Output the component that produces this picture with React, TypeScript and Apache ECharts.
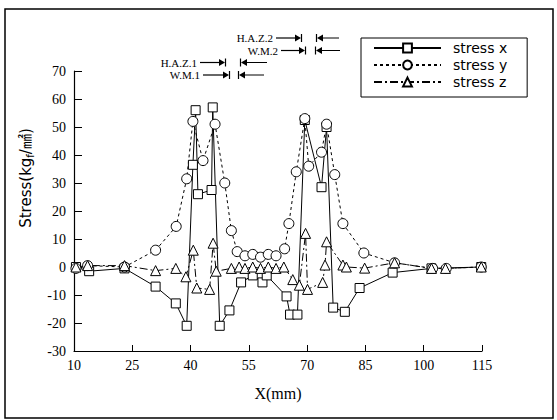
import React, { useEffect, useRef } from "react";
import * as echarts from "echarts";

const seriesNames = ["stress x", "stress y", "stress z"];

const xTickLabels = [10, 25, 40, 55, 70, 85, 100, 115];
const yTickLabels = [-30, -20, -10, 0, 10, 20, 30, 40, 50, 60, 70];

// stress x (squares, solid)
const stressXPos = [10.5, 13.9, 23, 31, 36.2, 39, 40.6, 41.3, 41.9, 45.4, 45.7, 47.5, 50, 53, 56, 58.5, 59.6, 64.7, 65.6, 67.5, 69.4, 73.7, 75, 76.7, 79.7, 83.5, 92, 102, 114.8];
const stressXVal = [0, -1.5, -0.5, -7, -13, -21, 36.5, 56, 26, 27.5, 57, -21, -15.5, -5.5, -3, -5.5, -3, -10.5, -17, -17, 52.5, 28.5, 50, -14.5, -16, -7.5, -2, -0.5, 0];

// stress y (circles, dotted)
const stressYPos = [10.5, 13.5, 23, 31, 36.3, 39, 40.6, 43.2, 46.3, 48.8, 50.5, 52, 54, 56, 58, 60, 62, 64.2, 65.3, 67.2, 69.4, 70.4, 73.7, 75, 77.1, 79.2, 84.6, 92.5, 102.3, 105.8, 114.8];
const stressYVal = [-0.5, 0.5, 0, 6, 14.5, 31.5, 52, 38, 51, 30, 13, 5.5, 4, 4.5, 3.5, 4.5, 4, 6.5, 15.5, 34, 53, 36, 41, 51, 33, 15.5, 5, 1.5, -0.5, -0.5, 0];

// stress z (triangles, dash-dot)
const stressZPos = [10.5, 13.5, 23, 31, 36.2, 38.8, 40.7, 41.6, 44.9, 45.8, 46.6, 50.5, 52.5, 54, 56, 58, 60, 62, 64, 66.3, 68, 69.6, 70.1, 74, 74.6, 75, 79.2, 80.1, 84.8, 92.5, 102, 105.6, 114.8];
const stressZVal = [0, 0.5, 0.5, -1.3, -0.5, -3.5, 6, -7.5, -8, 8.5, -1.5, -0.5, 0, -0.5, 0, -0.5, 0, -0.5, 0, -4.5, -6.5, 12, -8, -5.5, 0.7, 9, 0.7, 0, -0.4, 1.5, -0.5, -0.5, 0];

const zip = (xs: number[], ys: number[]) => xs.map((x, i) => [x, ys[i]]);

function annot(label: string, textRight: number, y: number, barL: number, barR: number, endR: number) {
  const s = { stroke: "#000", lineWidth: 1.2 };
  return [
    { type: "text", x: textRight, y, style: { text: label, align: "right", verticalAlign: "middle", font: '11px "Liberation Serif"', fill: "#000" } },
    { type: "line", shape: { x1: textRight + 3, y1: y, x2: barL - 2, y2: y }, style: s },
    { type: "polygon", shape: { points: [[barL - 6, y - 3.5], [barL, y], [barL - 6, y + 3.5]] }, style: { fill: "#000" } },
    { type: "line", shape: { x1: barL + 0.5, y1: y - 4, x2: barL + 0.5, y2: y + 4 }, style: s },
    { type: "line", shape: { x1: barR - 0.5, y1: y - 4, x2: barR - 0.5, y2: y + 4 }, style: s },
    { type: "polygon", shape: { points: [[barR + 6, y - 3.5], [barR, y], [barR + 6, y + 3.5]] }, style: { fill: "#000" } },
    { type: "line", shape: { x1: barR + 2, y1: y, x2: endR, y2: y }, style: { stroke: "#000", lineWidth: 1 } },
  ];
}

export default function App() {
  const ref = useRef<HTMLDivElement>(null);
  useEffect(() => {
    const chart = echarts.init(ref.current!, null, { renderer: "svg" });
    const serif = '"Liberation Serif", "DejaVu Serif", serif';
    const sans = '"DejaVu Sans", "Liberation Sans", sans-serif';
    const symStyle = { color: "#fff", borderColor: "#000", borderWidth: 1 };
    chart.setOption({
      animation: false,
      backgroundColor: "#fff",
      grid: { left: 74, right: 75, top: 71, bottom: 69 },
      xAxis: {
        type: "value",
        min: 10,
        max: 115,
        interval: 15,
        name: "X(mm)",
        nameLocation: "middle",
        nameGap: 34,
        nameTextStyle: { fontFamily: serif, fontSize: 16, color: "#000" },
        axisLine: { onZero: false, lineStyle: { color: "#000", width: 1.2 } },
        axisTick: { inside: true, length: 6, lineStyle: { color: "#000" } },
        axisLabel: { fontFamily: serif, fontSize: 14, color: "#000", margin: 7 },
        splitLine: { show: false },
      },
      yAxis: {
        type: "value",
        min: -30,
        max: 70,
        interval: 10,
        axisLine: { show: true, lineStyle: { color: "#000", width: 1.2 } },
        axisTick: { show: true, inside: true, length: 8, lineStyle: { color: "#000" } },
        axisLabel: { fontFamily: serif, fontSize: 14, color: "#000", margin: 8 },
        splitLine: { show: false },
      },
      legend: {
        orient: "vertical",
        left: 361,
        top: 38,
        itemWidth: 67,
        itemHeight: 11,
        itemGap: 3,
        padding: [3, 20, 8, 12],
        borderColor: "#000",
        borderWidth: 1,
        textStyle: { fontFamily: sans, fontSize: 14, color: "#000", padding: [0, 0, 0, 7] },
        data: seriesNames,
      },
      graphic: [
        { type: "rect", shape: { x: 5, y: 9, width: 548, height: 409 }, style: { fill: "none", stroke: "#000", lineWidth: 1.5 }, z: -10 },
        {
          type: "text",
          x: 26,
          y: 178,
          rotation: Math.PI / 2,
          style: {
            text: "Stress(kg{s|f}/㎟)",
            align: "center",
            verticalAlign: "middle",
            font: `15px ${sans}, "Noto Sans CJK KR"`,
            fill: "#000",
            rich: {
              s: { fontSize: 10, fontFamily: sans, padding: [8, 0, 0, 0], fill: "#000" },
            },
          },
        },
        ...annot("H.A.Z.2", 273, 38, 301, 317, 339),
        ...annot("W.M.2", 278, 50.5, 305, 316, 340),
        ...annot("H.A.Z.1", 197, 62.5, 225, 241, 267),
        ...annot("W.M.1", 200, 75, 229, 239, 264),
      ],
      series: [
        {
          name: seriesNames[0],
          type: "line",
          data: zip(stressXPos, stressXVal),
          symbol: "rect",
          symbolSize: 9,
          itemStyle: symStyle,
          lineStyle: { color: "#000", width: 1, type: "solid" },
        },
        {
          name: seriesNames[1],
          type: "line",
          data: zip(stressYPos, stressYVal),
          symbol: "circle",
          symbolSize: 10,
          itemStyle: symStyle,
          lineStyle: { color: "#000", width: 1, type: [3, 3] },
        },
        {
          name: seriesNames[2],
          type: "line",
          data: zip(stressZPos, stressZVal),
          symbol: "triangle",
          symbolSize: 10,
          itemStyle: symStyle,
          lineStyle: { color: "#000", width: 1, type: [8, 3, 2, 3] },
        },
      ],
    });
    return () => chart.dispose();
  }, []);
  return <div ref={ref} style={{ position: "fixed", left: 0, top: 0, width: 557, height: 420 }} />;
}
